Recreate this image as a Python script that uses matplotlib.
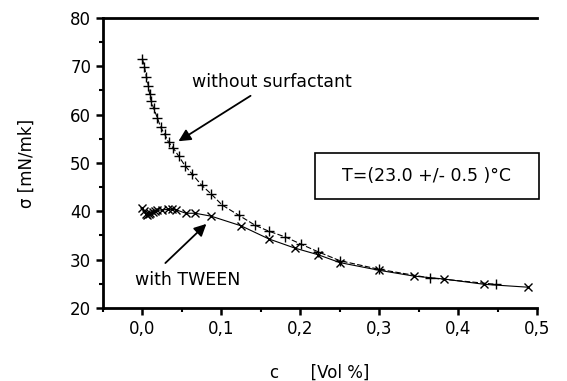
import matplotlib
matplotlib.use("Agg")
import matplotlib.pyplot as plt
from matplotlib.patches import Rectangle
from matplotlib.ticker import MultipleLocator, FuncFormatter

plt.rcParams['font.family'] = ['DejaVu Sans']

# without surfactant (+)
c_plain = [0.000, 0.0025, 0.005, 0.0076, 0.009, 0.011, 0.014, 0.019, 0.023, 0.028,
           0.033, 0.039, 0.046, 0.054, 0.063, 0.075, 0.087, 0.101, 0.122, 0.143,
           0.160, 0.181, 0.201, 0.223, 0.250, 0.300, 0.365, 0.448]
s_plain = [71.5, 69.9, 67.8, 65.9, 64.3, 62.8, 61.4, 59.3, 57.4, 56.0,
           54.3, 53.1, 51.4, 49.4, 47.7, 45.4, 43.6, 41.3, 39.2, 37.1,
           35.9, 34.7, 33.2, 31.6, 29.8, 28.0, 26.2, 24.9]

# with TWEEN (x)
c_tween = [0.000, 0.002, 0.004, 0.006, 0.008, 0.010, 0.013, 0.016, 0.019, 0.025,
           0.032, 0.037, 0.043, 0.055, 0.067, 0.087, 0.125, 0.160, 0.193, 0.223,
           0.250, 0.300, 0.344, 0.382, 0.433, 0.489]
s_tween = [40.6, 40.0, 39.5, 39.2, 39.4, 39.6, 39.8, 40.0, 40.2, 40.3,
           40.4, 40.4, 40.3, 39.6, 39.6, 39.0, 37.0, 34.3, 32.4, 31.0,
           29.4, 27.8, 26.6, 26.0, 24.9, 24.3]

fig = plt.figure(figsize=(5.67, 3.81), dpi=100)
ax = fig.add_axes([0.1817, 0.1916, 0.947 - 0.1817, 0.9528 - 0.1916])

ax.plot(c_plain, s_plain, color='black', linestyle=(0, (5, 2)), linewidth=0.8,
        marker='+', markersize=6.5, markeredgewidth=1.0)
ax.plot(c_tween, s_tween, color='black', linestyle='-', linewidth=0.8,
        marker='x', markersize=5.5, markeredgewidth=1.0)

ax.set_xlim(-0.05, 0.5)
ax.set_ylim(20, 80)
ax.xaxis.set_major_locator(MultipleLocator(0.1))
ax.xaxis.set_minor_locator(MultipleLocator(0.05))
ax.yaxis.set_major_locator(MultipleLocator(10))
ax.yaxis.set_minor_locator(MultipleLocator(5))
ax.xaxis.set_major_formatter(FuncFormatter(lambda v, p: f"{v:.1f}".replace('.', ',')))

ax.spines['right'].set_visible(False)
for s in ['left', 'top', 'bottom']:
    ax.spines[s].set_linewidth(2)
ax.tick_params(which='major', direction='out', length=5, width=1.8, labelsize=12)
ax.tick_params(which='minor', direction='out', length=3, width=1.5)
ax.tick_params(top=False, right=False)

ax.set_ylabel("σ [mN/mk]", fontsize=12, labelpad=25)
ax.set_xlabel("c      [Vol %]", fontsize=12, labelpad=19)

ax.annotate("", xy=(0.0456, 54.5), xytext=(0.137, 63.9),
            arrowprops=dict(arrowstyle='-|>', color='black', lw=1.3,
                            mutation_scale=18, shrinkA=0, shrinkB=0))
ax.text(0.063, 66.7, "without surfactant", fontsize=12.5, va='center', ha='left')

ax.annotate("", xy=(0.081, 37.4), xytext=(0.029, 29.3),
            arrowprops=dict(arrowstyle='-|>', color='black', lw=1.3,
                            mutation_scale=18, shrinkA=0, shrinkB=0))
ax.text(-0.009, 25.8, "with TWEEN", fontsize=12.5, va='center', ha='left')

# temperature box
ax.add_patch(Rectangle((0.219, 42.5), 0.2835, 9.55, facecolor='white',
                       edgecolor='black', lw=1.2, clip_on=False, zorder=3))
ax.text(0.3605, 47.3, "T=(23.0 +/- 0.5 )°C", fontsize=12.5, va='center',
        ha='center', zorder=4)

fig.savefig("out.png", dpi=100)
